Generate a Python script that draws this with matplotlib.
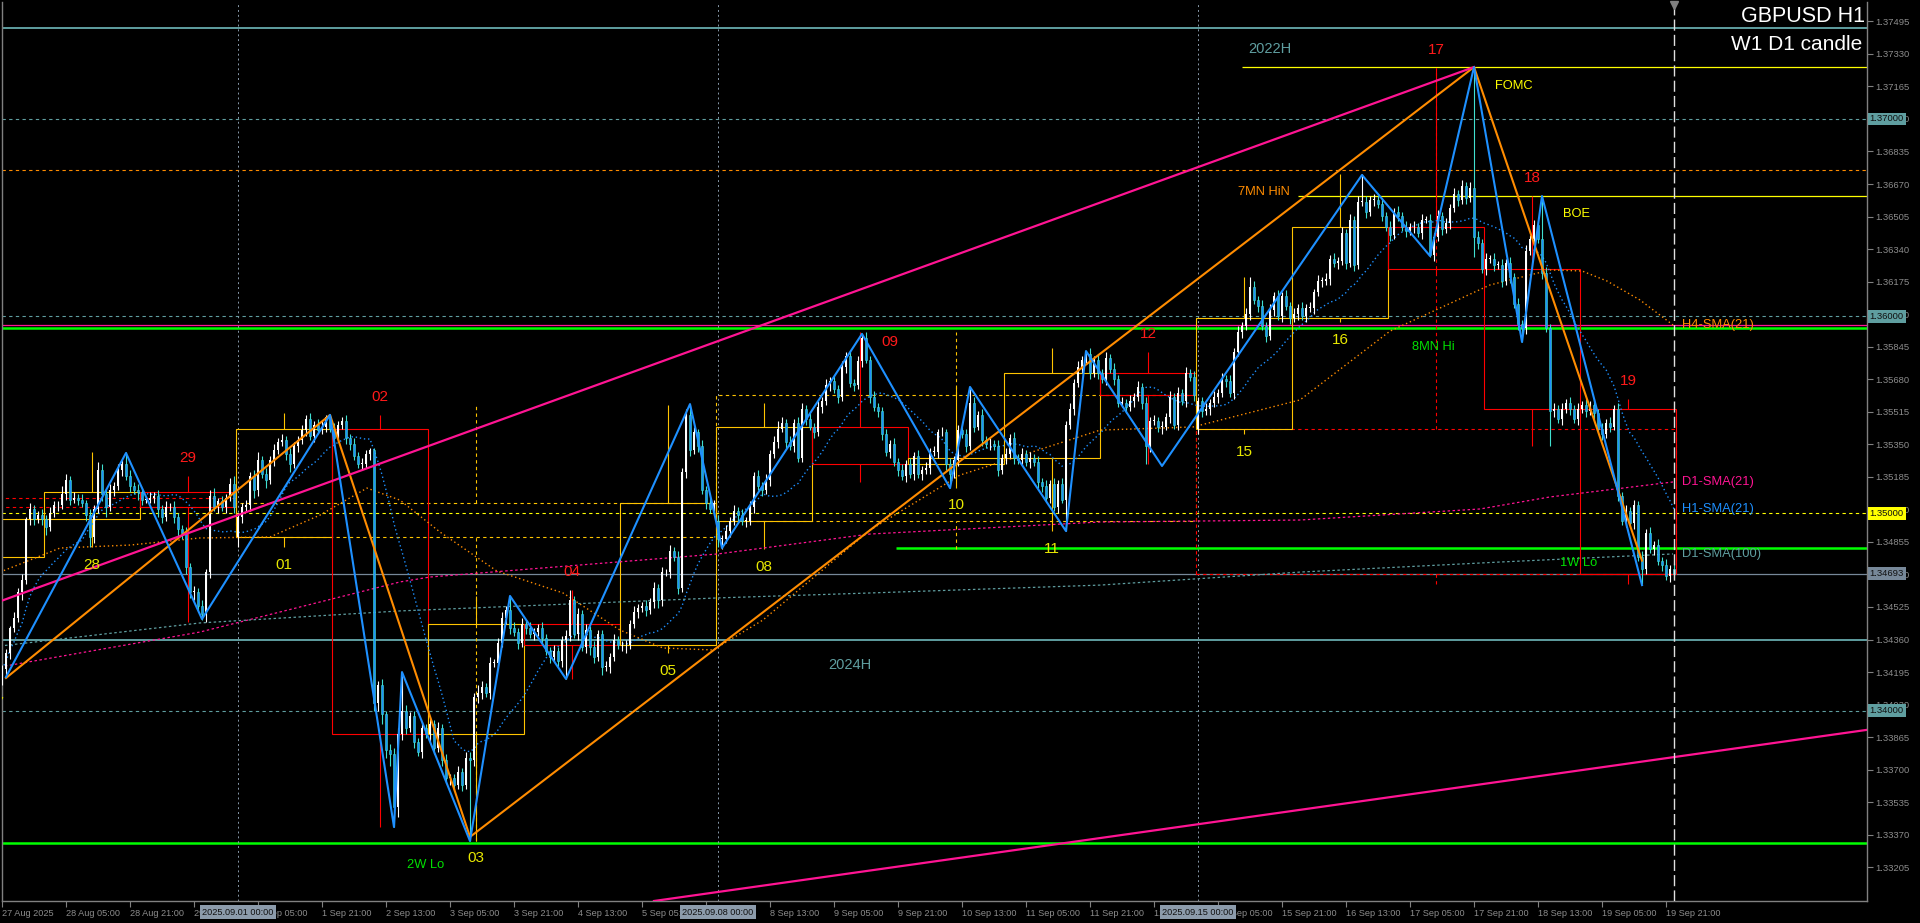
import numpy as np
import pandas as pd
import matplotlib
matplotlib.use("Agg")
import matplotlib.pyplot as plt
from matplotlib.patches import Rectangle

plt.rcParams['font.family'] = ['Liberation Sans', 'DejaVu Sans']

# all prices are in pips above 1.3000 (469.3 -> 1.34693)
BASE = 1.3

# GBPUSD H1 closes, 27 Aug 13:00 .. 19 Sep 23:00 (weekends skipped)
closes = [
    421, 429, 442, 447, 460, 466, 497, 502, 497, 499,
    497, 493, 500, 504, 504, 510, 517, 507, 508, 507,
    505, 499, 488, 502, 522, 510, 503, 512, 514, 522,
    525, 519, 514, 512, 511, 507, 507, 508, 509, 502,
    498, 503, 503, 498, 492, 490, 473, 460, 460, 453,
    449, 470, 509, 503, 506, 503, 508, 515, 503, 498,
    503, 504, 519, 512, 527, 520, 517, 527, 532, 536,
    537, 530, 525, 534, 537, 542, 548, 539, 545, 542,
    544, 549, 543, 538, 545, 547, 538, 535, 529, 525,
    525, 530, 532, 404, 413, 398, 380, 378, 351, 388,
    400, 391, 397, 384, 379, 391, 388, 393, 381, 391,
    375, 366, 366, 362, 369, 362, 376, 375, 407, 409,
    412, 409, 424, 424, 434, 447, 451, 442, 440, 434,
    444, 442, 439, 440, 442, 437, 430, 427, 430, 425,
    436, 438, 456, 439, 449, 432, 441, 432, 427, 439,
    422, 422, 427, 436, 433, 433, 433, 444, 450, 452,
    453, 451, 455, 462, 456, 470, 470, 481, 478, 462,
    521, 550, 532, 541, 534, 512, 505, 502, 505, 487,
    487, 491, 496, 501, 499, 496, 496, 503, 519, 514,
    512, 517, 530, 536, 543, 546, 536, 534, 546, 528,
    553, 548, 544, 541, 554, 557, 565, 567, 563, 559,
    574, 580, 566, 565, 577, 589, 578, 559, 554, 552,
    540, 531, 535, 526, 522, 519, 525, 520, 529, 520,
    522, 523, 531, 531, 541, 541, 525, 520, 527, 542,
    540, 534, 556, 544, 550, 537, 535, 535, 534, 522,
    528, 530, 538, 528, 527, 530, 526, 528, 526, 516,
    514, 508, 515, 503, 515, 507, 545, 553, 566, 574,
    578, 581, 571, 578, 571, 568, 579, 573, 568, 556,
    556, 554, 557, 559, 564, 556, 534, 547, 547, 544,
    544, 549, 559, 545, 561, 557, 571, 569, 560, 557,
    552, 553, 556, 559, 561, 568, 567, 561, 582, 592,
    595, 601, 615, 608, 605, 595, 590, 603, 610, 600,
    610, 605, 599, 601, 604, 600, 604, 604, 612, 618,
    618, 619, 629, 627, 628, 642, 627, 649, 626, 658,
    658, 653, 659, 659, 657, 651, 645, 641, 653, 651,
    645, 643, 645, 645, 642, 649, 649, 631, 640, 651,
    644, 647, 655, 662, 659, 666, 660, 665, 640, 637,
    624, 629, 629, 626, 626, 618, 627, 620, 606, 596,
    594, 633, 639, 646, 639, 622, 594, 552, 553, 548,
    553, 556, 553, 548, 553, 555, 552, 555, 551, 543,
    540, 546, 544, 553, 509, 496, 501, 495, 504, 478,
    472, 490, 482, 484, 476, 474, 468, 472, 469.3,
]
wick_up = [
    2, 2, 1, 3, 2, 3, 1, 3, 2, 2, 3, 2, 3, 2, 2, 4, 3, 2, 3, 2,
    3, 2, 3, 2, 4, 3, 2, 3, 2, 3, 2, 6, 3, 2, 3, 2, 2, 3, 2, 3,
    2, 3, 2, 3, 2, 2, 3, 2, 3, 2, 3, 2, 3, 4, 2, 3, 2, 3, 4, 2,
    2, 3, 2, 3, 4, 2, 3, 2, 3, 2, 3, 2, 3, 2, 2, 3, 2, 3, 2, 3,
    3, 1, 1, 3, 2, 2, 3, 2, 3, 2, 3, 2, 1, 1, 2, 3, 2, 3, 3, 3,
    19, 3, 2, 3, 2, 3, 2, 3, 2, 3, 2, 3, 2, 2, 3, 2, 3, 3, 2, 4,
    3, 2, 3, 2, 3, 3, 2, 7, 3, 2, 3, 2, 3, 2, 2, 3, 2, 2, 3, 2,
    2, 3, 5, 2, 3, 2, 3, 2, 3, 2, 2, 3, 2, 3, 2, 2, 3, 2, 3, 2,
    2, 3, 2, 3, 2, 3, 2, 3, 2, 3, 2, 3, 5, 3, 2, 3, 2, 3, 2, 3,
    2, 3, 2, 3, 2, 3, 2, 3, 2, 3, 2, 3, 2, 3, 4, 3, 2, 3, 2, 3,
    3, 2, 3, 2, 3, 2, 3, 2, 3, 2, 3, 2, 3, 2, 3, 2, 3, 2, 3, 2,
    2, 3, 2, 3, 2, 3, 2, 3, 2, 3, 2, 3, 2, 3, 2, 3, 2, 3, 2, 3,
    2, 3, 8, 3, 2, 3, 2, 3, 2, 3, 2, 3, 2, 3, 2, 3, 2, 3, 2, 3,
    2, 3, 2, 3, 2, 3, 2, 3, 2, 3, 2, 1, 3, 2, 3, 2, 3, 2, 3, 2,
    3, 2, 3, 2, 3, 2, 3, 2, 3, 2, 3, 2, 3, 2, 3, 2, 3, 2, 3, 2,
    2, 3, 2, 3, 2, 3, 2, 3, 2, 3, 2, 3, 5, 3, 2, 3, 2, 3, 2, 3,
    2, 3, 2, 3, 2, 3, 2, 3, 2, 3, 2, 3, 2, 3, 2, 3, 2, 3, 2, 3,
    14, 3, 2, 3, 2, 3, 2, 3, 2, 3, 2, 3, 2, 3, 2, 3, 2, 3, 2, 3,
    2, 3, 2, 3, 2, 3, 2, 3, 61, 3, 2, 3, 2, 3, 2, 3, 2, 3, 2, 3,
    2, 3, 2, 3, 2, 22, 3, 2, 3, 2, 3, 2, 3, 2, 3, 2, 3, 2, 3, 2,
    3, 2, 3, 2, 3, 2, 3, 2, 3, 2, 3, 2, 3, 2, 3, 2, 3, 2, 3,
]
wick_dn = [
    4, 3, 3, 2, 2, 4, 2, 3, 3, 2, 3, 4, 2, 2, 3, 2, 3, 3, 2, 3,
    2, 3, 5, 3, 2, 4, 5, 2, 3, 2, 3, 2, 3, 2, 4, 3, 2, 2, 3, 4,
    3, 2, 2, 3, 4, 3, 4, 3, 4, 3, 3, 4, 3, 2, 3, 2, 3, 2, 3, 5,
    3, 2, 3, 4, 3, 2, 4, 2, 3, 2, 2, 3, 4, 2, 3, 2, 3, 2, 3, 2,
    2, 3, 2, 3, 2, 2, 3, 3, 2, 2, 3, 2, 3, 4, 4, 5, 4, 6, 10, 5,
    3, 3, 2, 3, 2, 3, 2, 4, 3, 2, 3, 3, 4, 3, 2, 3, 2, 41, 3, 3,
    3, 2, 3, 2, 3, 2, 3, 3, 2, 3, 2, 3, 2, 3, 2, 3, 2, 3, 2, 3,
    3, 20, 3, 2, 3, 2, 3, 4, 3, 2, 4, 2, 3, 2, 2, 3, 4, 2, 2, 3,
    2, 3, 2, 3, 4, 3, 2, 3, 2, 3, 2, 3, 3, 2, 3, 2, 3, 2, 3, 4,
    5, 2, 3, 2, 3, 2, 3, 2, 3, 2, 3, 2, 3, 2, 3, 2, 3, 2, 3, 2,
    2, 3, 2, 3, 2, 3, 2, 3, 2, 3, 2, 3, 2, 3, 2, 3, 2, 3, 2, 3,
    3, 2, 3, 2, 3, 2, 3, 2, 3, 2, 3, 2, 3, 2, 3, 2, 3, 7, 2, 3,
    2, 3, 2, 3, 2, 3, 2, 3, 2, 3, 2, 3, 2, 3, 2, 3, 2, 3, 2, 3,
    3, 2, 3, 2, 3, 2, 16, 2, 3, 2, 3, 2, 3, 2, 3, 2, 3, 2, 3, 2,
    2, 3, 2, 3, 2, 3, 9, 3, 2, 3, 4, 2, 3, 2, 3, 2, 3, 2, 3, 3,
    3, 2, 3, 2, 3, 2, 3, 2, 3, 2, 3, 2, 3, 2, 3, 2, 3, 2, 3, 2,
    3, 2, 3, 2, 3, 2, 3, 2, 3, 2, 3, 2, 3, 2, 3, 2, 3, 2, 3, 2,
    2, 3, 2, 3, 2, 3, 2, 3, 2, 3, 2, 3, 2, 3, 2, 3, 2, 1, 3, 2,
    3, 2, 3, 2, 3, 2, 3, 2, 10, 3, 2, 3, 2, 3, 2, 3, 2, 3, 2, 3,
    7, 3, 2, 3, 2, 3, 2, 18, 3, 2, 3, 2, 3, 2, 3, 2, 3, 2, 3, 2,
    3, 2, 3, 2, 3, 2, 3, 2, 3, 2, 8, 3, 2, 3, 2, 3, 2, 3, 2,
]
first_open = 417
gap_opens = {59: 488, 179: 496, 299: 543}

# trading days / weeks (bar index of the first hour)
day_names = ['27', '28', '29', '01', '02', '03', '04', '05', '08',
             '09', '10', '11', '12', '15', '16', '17', '18', '19']
day_starts = [-13, 11, 35, 59, 83, 107, 131, 155, 179,
              203, 227, 251, 275, 299, 323, 347, 371, 395]
first_day_open = 478
week_starts = [-61, 59, 179, 299]
first_week_open = 508

# zigzag pivots (bar, price)
zz_fast_bar = [1, 31, 50, 82, 98, 100, 117, 127, 141, 172, 180, 215, 237, 242,
               266, 271, 290, 340, 357, 368, 380, 385, 410]
zz_fast_px = [417, 530.6, 446.4, 549.9, 340.9, 419.5, 333.8, 458.1, 416, 555.4,
              482.4, 591, 512.8, 564.1, 491, 582.3, 524, 671.6, 630.5, 726.3,
              586.9, 660.9, 463.6]
zz_slow_bar = [1, 82, 117, 368, 410]
zz_slow_px = [416.5, 549.9, 335.9, 726.3, 476]

# higher timeframe averages (bar, price)
h4_sma_bar = [-0.5, 14.5, 32, 49.5, 67, 79.5, 91.25, 99.5, 109.5, 123.75, 140.25,
              154.5, 165.25, 177.75, 190.25, 204.5, 217, 239.5, 251.25, 274.5,
              297.75, 324.5, 347, 359.5, 372, 387, 395, 401.25, 409.5, 417.75]
h4_sma_px = [470.2, 482.4, 483.9, 487.5, 488.0, 499.1, 512.8, 506.7, 490.5, 470.7,
             459.6, 440.8, 431.7, 430.7, 445.9, 470.2, 491.5, 519.4, 527.0, 542.2,
             543.8, 557.5, 592.4, 604.1, 615.8, 623.4, 622.9, 617.8, 608.2, 595.5]
d1_sma21_bar = [-0.5, 49.5, 99.5, 107, 179, 217, 274.5, 324.5, 369.5, 387, 417.75]
d1_sma21_px = [422.1, 439.8, 465.2, 467.7, 479.4, 489.5, 495.6, 496.6, 502.2, 508.3, 515.9]
d1_sma100_bar = [-0.5, 49.5, 99.5, 179, 217, 274.5, 324.5, 374.5, 417.75]
d1_sma100_px = [432.7, 444.4, 450.5, 457.1, 459.6, 463.6, 470.2, 475.3, 479.4]

# trend lines
tl_up_bar, tl_up_px = [-1, 368], [455, 726.3]
tl_lo_bar, tl_lo_px = [163, 449.5], [303.4, 385.4]

tick_bars = list(range(0, 417, 16))
tick_labels = ['27 Aug 2025', '28 Aug 05:00', '28 Aug 21:00', '29 Aug 13:00',
               '1 Sep 05:00', '1 Sep 21:00', '2 Sep 13:00', '3 Sep 05:00',
               '3 Sep 21:00', '4 Sep 13:00', '5 Sep 05:00', '5 Sep 21:00',
               '8 Sep 13:00', '9 Sep 05:00', '9 Sep 21:00', '10 Sep 13:00',
               '11 Sep 05:00', '11 Sep 21:00', '12 Sep 13:00', '15 Sep 05:00',
               '15 Sep 21:00', '16 Sep 13:00', '17 Sep 05:00', '17 Sep 21:00',
               '18 Sep 13:00', '19 Sep 05:00', '19 Sep 21:00']
sep_bars = [59, 179, 299]
sep_labels = ['2025.09.01 00:00', '2025.09.08 00:00', '2025.09.15 00:00']

# ---- candles ----
c = np.array(closes, float)
n = len(c)
assert len(wick_up) == n and len(wick_dn) == n
o = np.r_[first_open, c[:-1]]
for k, v in gap_opens.items():
    o[k] = v
h = np.maximum(o, c) + np.array(wick_up)
l = np.minimum(o, c) - np.array(wick_dn)
x = np.arange(n)

GOLD, RED = '#FFC400', '#FF0000'
TEAL = '#5F9EA0'

fig = plt.figure(figsize=(19.2, 9.23), dpi=100, facecolor='black')
ax = fig.add_axes([2/1920, 22/923, 1865/1920, 899/923])
ax.set_facecolor('black')
ax.set_xlim(0, 466.25)
ax.set_ylim(303.4, 759.3)

# level lines
ax.axhline(746.1, color=TEAL, lw=1.4, zorder=1)
ax.axhline(436.0, color=TEAL, lw=1.4, zorder=1)
for lv in (700, 600, 400):
    ax.axhline(lv, color=TEAL, lw=0.8, dashes=(3, 3), zorder=1)
ax.axhline(500, color='#FFFF00', lw=0.8, dashes=(3, 3), zorder=1)
ax.axhline(674.1, color='#FF8C00', lw=0.8, dashes=(3, 3), zorder=1)
ax.hlines(726.3, 310, 470, color='#FFFF00', lw=0.9, zorder=1)
ax.hlines(660.7, 324, 470, color='#FFFF00', lw=0.9, zorder=1)
ax.axhline(595.6, color='#FF1493', lw=0.9, zorder=1)
ax.axhline(594.1, color='#00FF00', lw=1.8, zorder=1)
ax.hlines(482.6, 223.5, 470, color='#00FF00', lw=1.8, zorder=1)
ax.axhline(333.0, color='#00FF00', lw=1.8, zorder=1)
ax.axhline(469.3, color='#778899', lw=0.9, zorder=1)
for b in sep_bars:
    ax.axvline(b, color='#8899AA', lw=0.7, dashes=(2, 3), zorder=1)


def period_box(s, e, op, dashed):
    seg = slice(max(s, 0), e + 1)
    cl = c[e]
    hi = max(h[seg].max(), op)
    lo = min(l[seg].min(), op)
    bull = cl >= op
    col = GOLD if bull else RED
    ls = (0, (3, 3)) if dashed else '-'
    ax.add_patch(Rectangle((s - 0.5, min(op, cl)), e - s + 1, abs(cl - op),
                           fill=False, ec=col, lw=0.8, ls=ls, zorder=2))
    mid = (s + e) / 2
    ax.vlines(mid, max(op, cl), hi, color=col, lw=0.8, ls=ls, zorder=2)
    ax.vlines(mid, lo, min(op, cl), color=col, lw=0.8, ls=ls, zorder=2)
    return bull, hi, lo, mid


ends = week_starts[1:] + [n]
for i, s in enumerate(week_starts):
    op = first_week_open if s < 0 else o[s]
    period_box(s, ends[i] - 1, op, True)

label_nudge = {'09': (7.5, -14)}
ends = day_starts[1:] + [n]
for i, s in enumerate(day_starts):
    op = first_day_open if s < 0 else o[s]
    bull, hi, lo, mid = period_box(s, ends[i] - 1, op, False)
    ty = lo - 9 if bull else hi + 9
    dx, dy = label_nudge.get(day_names[i], (0, 0))
    ax.text(mid + dx, ty + dy, day_names[i], color='#E8E800' if bull else '#FF1A1A',
            fontsize=11, ha='center', va='center', zorder=5, clip_on=True)

# averages
h1_sma = pd.Series(c).rolling(21, min_periods=1).mean().values
ax.plot(x, h1_sma, color='#1E90FF', lw=1.0, ls=(0, (1, 2)), zorder=2.5)
ax.plot(h4_sma_bar, h4_sma_px, color='#FF8C00', lw=1.0, ls=(0, (1, 2)), zorder=2.5)
ax.plot(d1_sma21_bar, d1_sma21_px, color='#FF1493', lw=0.9, ls=(0, (2, 2)), zorder=2.5)
ax.plot(d1_sma100_bar, d1_sma100_px, color=TEAL, lw=0.9, ls=(0, (2, 2)), zorder=2.5)

# candles
bull = c >= o
bear = ~bull
ax.vlines(x[bull], l[bull], h[bull], color='white', lw=0.8, zorder=3)
ax.vlines(x[bear], l[bear], h[bear], color='#40E0D0', lw=0.8, zorder=3)
ax.bar(x[bull], np.maximum(c - o, 0.4)[bull], bottom=o[bull], width=0.7,
       color='white', lw=0, zorder=3.1)
ax.bar(x[bear], np.maximum(o - c, 0.4)[bear], bottom=c[bear], width=0.7,
       color='#1E90FF', ec='#40E0D0', lw=0.4, zorder=3.1)

# zigzags and trend lines
ax.plot(zz_slow_bar, zz_slow_px, color='#FF8C00', lw=1.5, zorder=4)
ax.plot(zz_fast_bar, zz_fast_px, color='#1E90FF', lw=1.5, zorder=4.1)
ax.plot(tl_up_bar, tl_up_px, color='#FF1493', lw=1.6, zorder=4)
ax.axline((tl_lo_bar[0], tl_lo_px[0]), (tl_lo_bar[1], tl_lo_px[1]),
          color='#FF1493', lw=1.6, zorder=4)

# current bar marker
ax.axvline(n - 1, color='#E0E0E0', lw=1, dashes=(8, 3), zorder=4)
ax.plot([n - 1], [0.997], marker='v', color='#808080', ms=6,
        transform=ax.get_xaxis_transform(), clip_on=False, zorder=6)

# text objects
notes = [('2022H', 311.5, 735.5, TEAL, 10.5), ('2024H', 206.5, 423.1, TEAL, 10.5),
         ('FOMC', 373.25, 716.7, '#FFFF00', 9.3), ('BOE', 390.25, 651.8, '#FFFF00', 9.3),
         ('7MN HiN', 309, 662.9, '#FF8C00', 9.3), ('8MN Hi', 352.5, 584.3, '#00E000', 9.3),
         ('1W Lo', 389.5, 474.8, '#00E000', 9.3), ('2W Lo', 101.25, 321.6, '#00E000', 9.3)]
for t, bx, py, col, fs in notes:
    ax.text(bx, py, t, color=col, fontsize=fs, ha='left', va='center', zorder=5)
sma_tags = [('H4-SMA(21)', h4_sma_px[-1], '#FF8C00'), ('D1-SMA(21)', d1_sma21_px[-1], '#FF1493'),
            ('H1-SMA(21)', h1_sma[-1], '#1E90FF'), ('D1-SMA(100)', d1_sma100_px[-1], TEAL)]
for t, py, col in sma_tags:
    ax.text(n + 1, py, t, color=col, fontsize=9.3, ha='left', va='center', zorder=5)

fig.text(1865/1920, 1 - 17/923, 'GBPUSD H1', color='white', fontsize=15.5,
         ha='right', va='center')
fig.text(1862/1920, 1 - 44.5/923, 'W1 D1 candle', color='white', fontsize=15,
         ha='right', va='center')

# axes
for side in ('left', 'bottom', 'right'):
    ax.spines[side].set_color('#808080')
    ax.spines[side].set_linewidth(1)
ax.spines['top'].set_visible(False)
yt = [749.5 - 16.5 * k for k in range(27)]
ax.yaxis.tick_right()
ax.set_yticks(yt)
ax.set_yticklabels([f'{BASE + v / 1e4:.5f}' for v in yt])
ax.tick_params(axis='y', colors='#808080', labelcolor='#8C8C8C', labelsize=6.8,
               length=4, width=0.8, pad=2)
ax.set_xticks(tick_bars)
ax.set_xticklabels(tick_labels, ha='left')
ax.tick_params(axis='x', colors='#808080', labelcolor='#8C8C8C', labelsize=6.6,
               length=4, width=0.8, pad=1.5)

price_tags = [(700, '#5F9EA0'), (600, '#5F9EA0'), (500, '#FFFF00'),
              (469.3, '#778899'), (400, '#5F9EA0')]
for v, col in price_tags:
    ax.annotate(f'{BASE + v / 1e4:.5f}', xy=(1, v), xycoords=ax.get_yaxis_transform(),
                xytext=(2, 0), textcoords='offset points', ha='left', va='center',
                fontsize=6.8, color='#101010', annotation_clip=False, zorder=7,
                bbox=dict(boxstyle='square,pad=0.2', fc=col, ec='none'))
for b, t in zip(sep_bars, sep_labels):
    ax.annotate(t, xy=(b, 0), xycoords=ax.get_xaxis_transform(),
                xytext=(0, -8), textcoords='offset points', ha='center', va='center',
                fontsize=6.6, color='#101010', annotation_clip=False, zorder=7,
                bbox=dict(boxstyle='square,pad=0.25', fc='#8C9BAB', ec='none'))

fig.savefig('out.png', dpi=100, facecolor='black')
